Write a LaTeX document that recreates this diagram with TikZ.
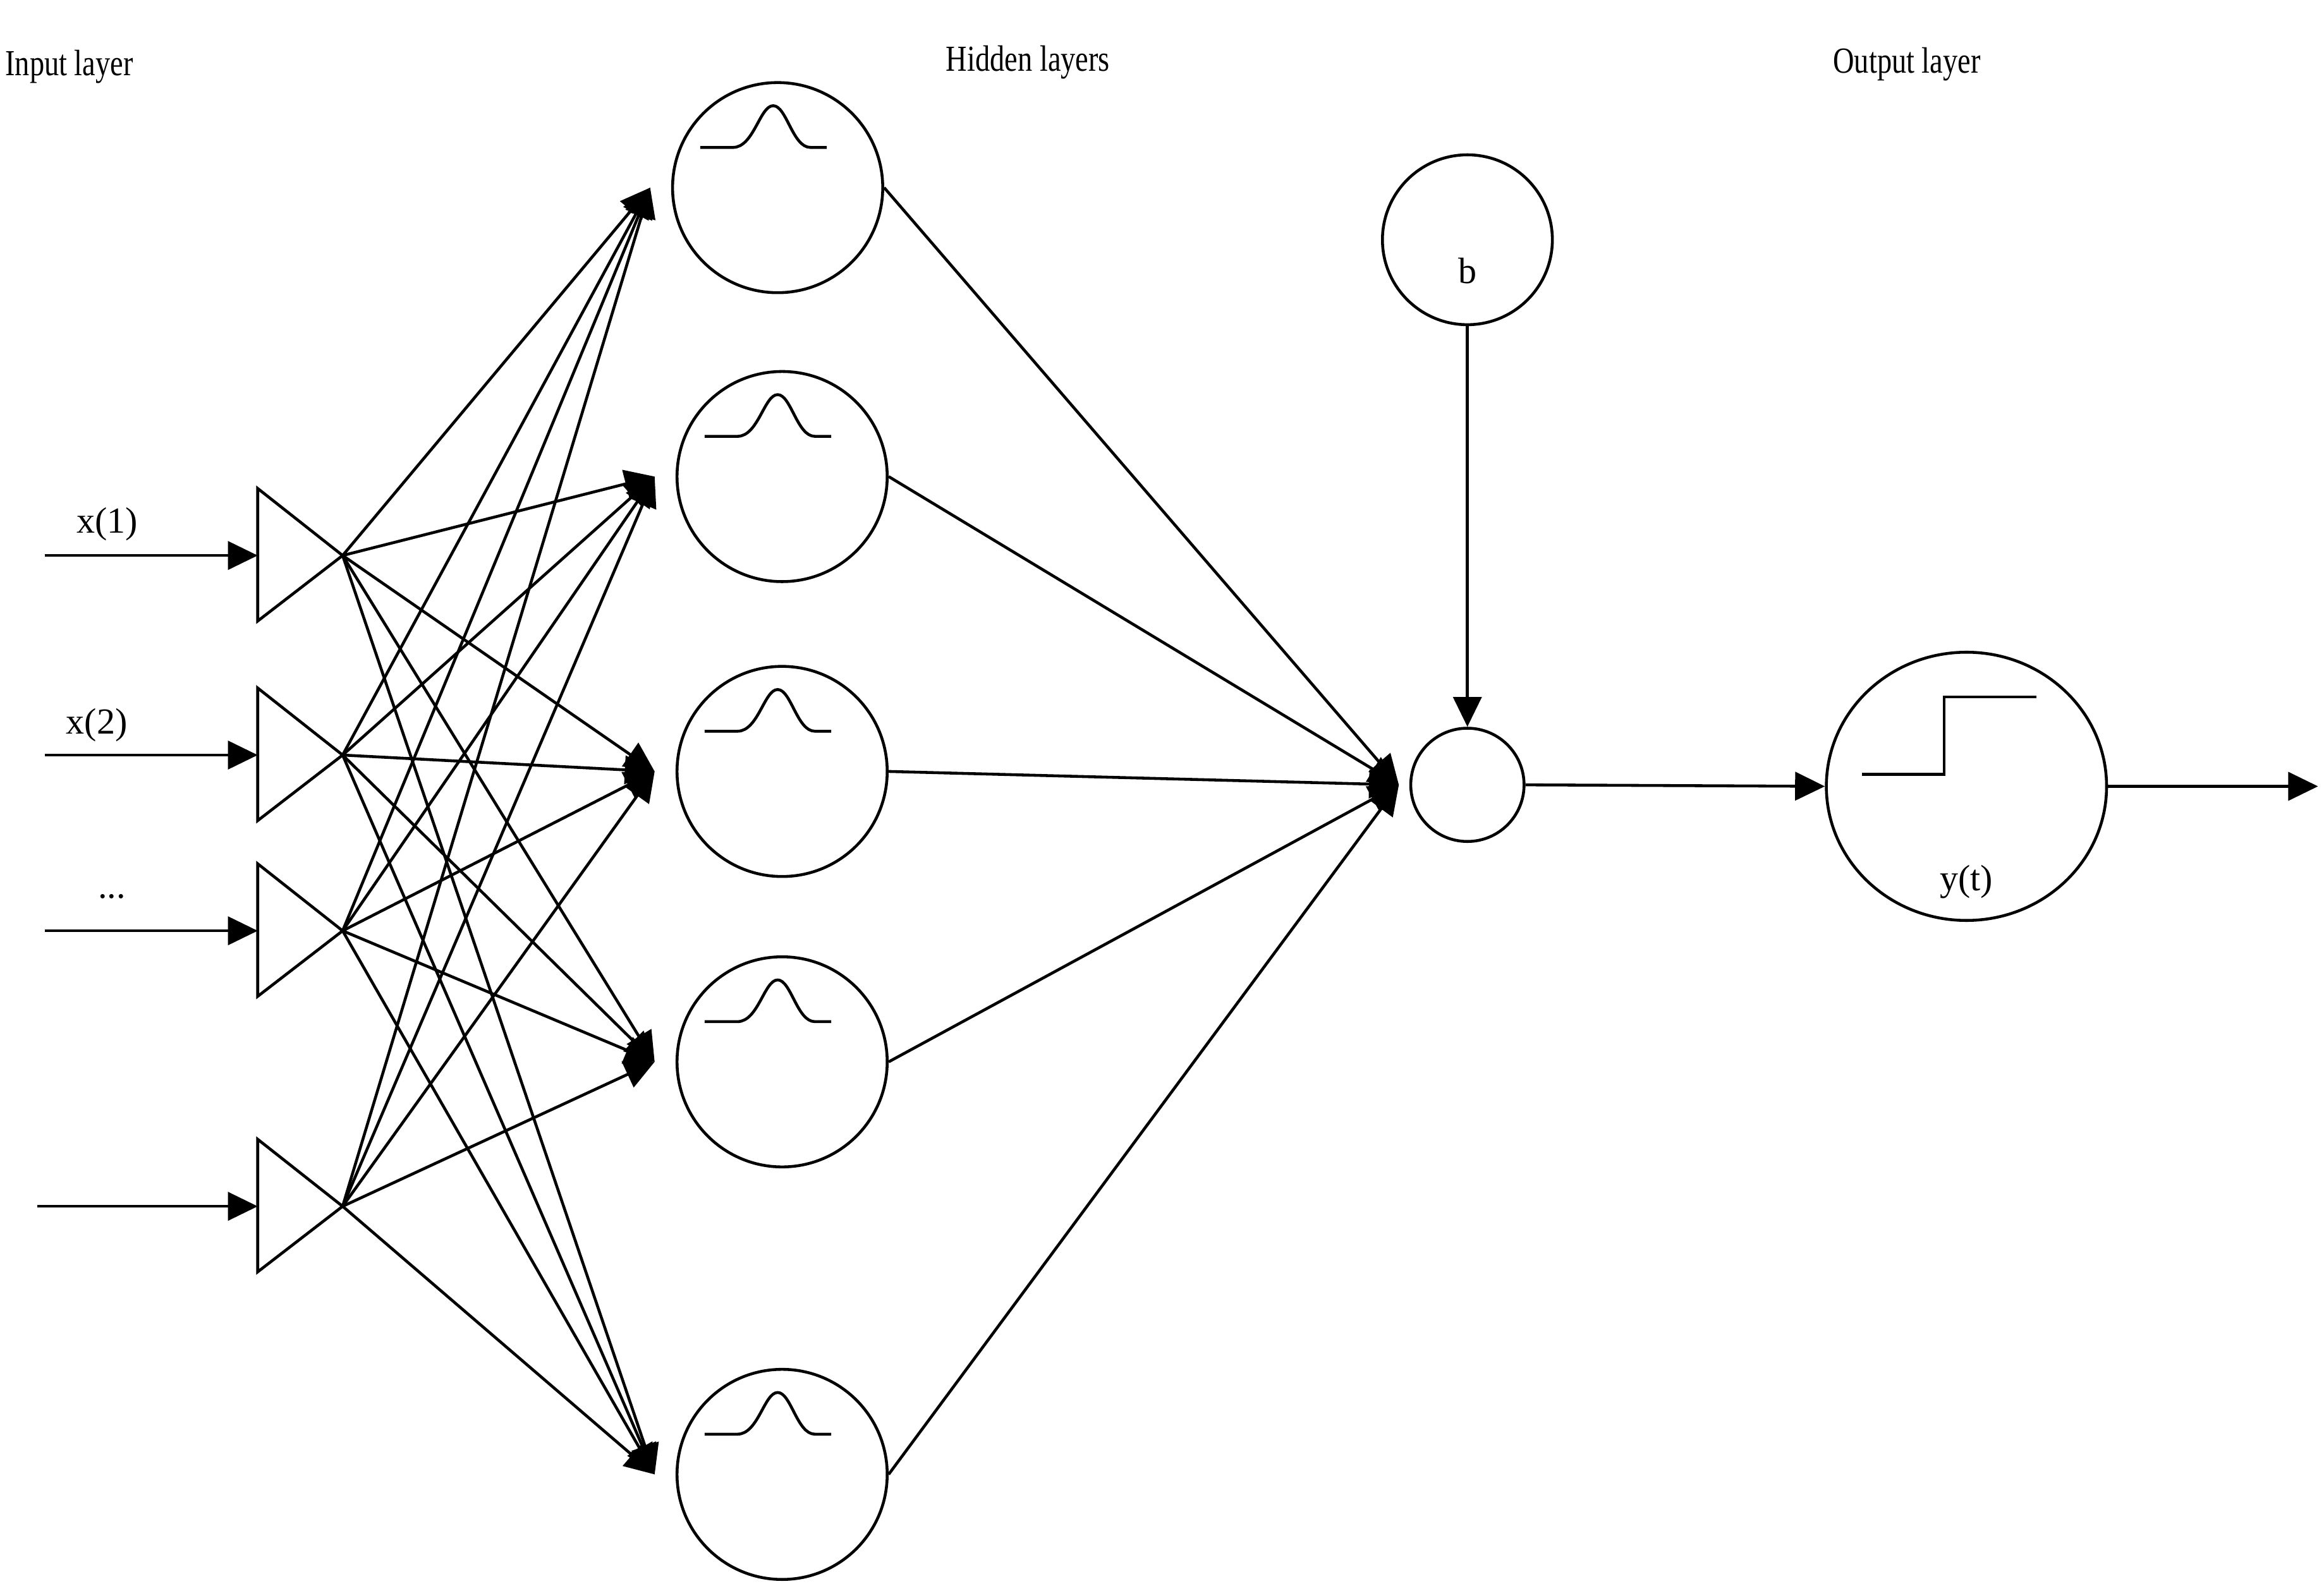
\documentclass[tikz,border=0pt]{standalone}
\usepackage{fontspec}
\setmainfont{Liberation Serif}
\usetikzlibrary{arrows.meta,shapes.geometric}
\begin{document}
\begin{tikzpicture}[x=0.01cm,y=-0.01cm,
  ln/.style={line width=0.55pt},
  arr/.style={ln,-{Triangle[length=0.2cm,width=0.19cm]}},
  neuron/.style={circle,draw,line width=0.55pt,minimum size=1.41cm,inner sep=0},
  lbl/.style={font=\fontsize{7}{8}\selectfont,inner sep=0}]
\useasboundingbox (0,0) rectangle (1560,1068);
% labels
\node[lbl,xscale=0.8,anchor=west] (tin) at (3,45) {Input layer};
\node[lbl,xscale=0.8] (thid) at (690,42) {Hidden layers};
\node[lbl,xscale=0.8] (tout) at (1280,43) {Output layer};
% inputs
\foreach \i/\y/\x in {1/373/30,2/507/30,3/625/30,4/810/25}{
  \coordinate (tl\i) at (173,\y);
  \coordinate (tip\i) at (230,\y);
  \coordinate (src\i) at (\x,\y);
  \draw[ln] (173,\y-45) -- (tip\i) -- (173,\y+44) -- cycle;
  \draw[arr] (src\i) -- (tl\i);
}
\node[lbl] (x1) at (72,352) {x(1)};
\node[lbl] (x2) at (65,487) {x(2)};
\node[lbl] (x3) at (75,602) {...};
% hidden
\foreach \i/\x/\y in {1/522/126,2/525/320,3/525/518,4/525/713,5/525/990}{
  \node[neuron] (h\i) at (\x,\y) {};
  \draw[ln] (\x-52,\y-27) -- (\x-30,\y-27) .. controls (\x-16,\y-27) and (\x-12,\y-55) .. (\x-3,\y-55)
     .. controls (\x+6,\y-55) and (\x+10,\y-27) .. (\x+22,\y-27) -- (\x+33,\y-27);
}
\foreach \i in {1,...,4}{
  \foreach \j in {1,...,5}{
    \draw[arr] (tip\i) -- ([xshift=-4]h\j.west);
  }
}
% sum, bias, output
\node[circle,draw,line width=0.55pt,minimum size=0.76cm,inner sep=0] (sum) at (985,527) {};
\node[neuron,minimum size=1.14cm] (bias) at (985,161) {};
\node[lbl] (b) at (985,182) {b};
\foreach \j in {1,...,5}{ \draw[arr] (h\j.east) -- ([xshift=-2]sum.west); }
\draw[arr] (bias.south) -- (sum.north);
\node[ellipse,draw,line width=0.55pt,minimum width=1.88cm,minimum height=1.8cm,inner sep=0] (out) at (1320,528) {};
\draw[ln] (1250,520) -- (1305,520) -- (1305,468) -- (1367,468);
\node[lbl] (y) at (1320,592) {y(t)};
\draw[arr] (sum.east) -- (out.west);
\coordinate (end) at (1556,528);
\draw[arr] (out.east) -- (end);
\end{tikzpicture}
\end{document}
